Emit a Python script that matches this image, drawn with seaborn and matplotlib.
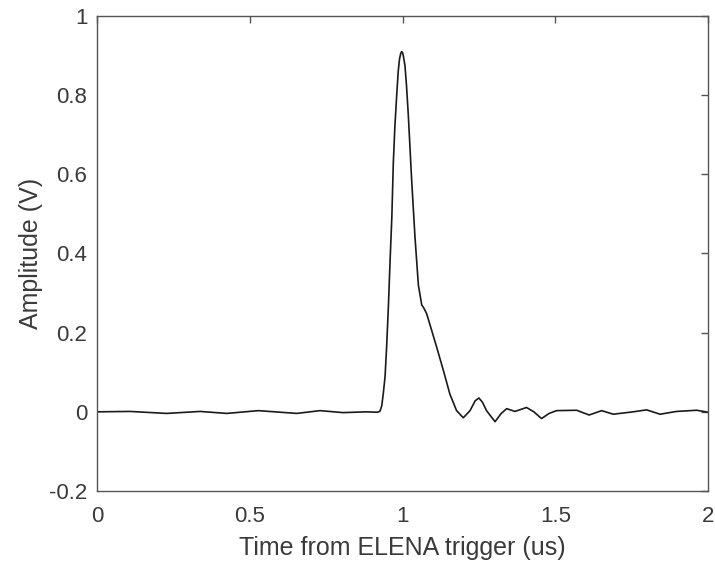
import numpy as np
import pandas as pd
import matplotlib
matplotlib.use("Agg")
import matplotlib.pyplot as plt
import seaborn as sns

# 시간 (us) / 진폭 (V) - 그림에서 읽은 값
time_us = [0.000, 0.108, 0.228, 0.337, 0.425, 0.528, 0.654, 0.730, 0.806, 0.880,
           0.916, 0.926, 0.932, 0.937, 0.943, 0.948, 0.954, 0.959, 0.965, 0.970,
           0.975, 0.981, 0.986, 0.990, 0.994, 0.997, 1.000, 1.003, 1.008, 1.013,
           1.019, 1.030, 1.041, 1.052, 1.063, 1.070, 1.079, 1.090, 1.112, 1.134,
           1.155, 1.177, 1.199, 1.221, 1.238, 1.250, 1.262, 1.275, 1.303, 1.322,
           1.341, 1.368, 1.406, 1.430, 1.455, 1.480, 1.504, 1.570, 1.611, 1.652,
           1.690, 1.755, 1.799, 1.843, 1.897, 1.963, 2.000]
amplitude = [0.000, 0.001, -0.004, 0.001, -0.004, 0.003, -0.004, 0.003, -0.002, 0.000,
             -0.001, 0.001, 0.015, 0.045, 0.090, 0.163, 0.270, 0.375, 0.490, 0.630,
             0.720, 0.800, 0.860, 0.890, 0.905, 0.910, 0.908, 0.898, 0.875, 0.825,
             0.750, 0.585, 0.440, 0.320, 0.270, 0.262, 0.248, 0.220, 0.163, 0.104,
             0.045, 0.003, -0.015, 0.003, 0.028, 0.035, 0.024, 0.003, -0.025, -0.005,
             0.008, 0.001, 0.011, 0.000, -0.017, -0.004, 0.003, 0.004, -0.008, 0.003,
             -0.006, 0.000, 0.005, -0.006, 0.001, 0.004, -0.001]

df = pd.DataFrame({"t": time_us, "amp": amplitude})

sns.set_style("white")
plt.rcParams["font.family"] = ["Liberation Sans", "DejaVu Sans"]

fig = plt.figure(figsize=(7.15, 5.66), dpi=100)
ax = fig.add_axes([97 / 715, 1 - 491 / 566, 611 / 715, 475 / 566])
sns.lineplot(data=df, x="t", y="amp", ax=ax, color="#1a1a1a", linewidth=1.2)

ax.set_xlim(0, 2)
ax.set_ylim(-0.2, 1)
ax.set_xticks([0, 0.5, 1, 1.5, 2])
ax.set_xticklabels(["0", "0.5", "1", "1.5", "2"])
ax.set_yticks([-0.2, 0, 0.2, 0.4, 0.6, 0.8, 1])
ax.set_yticklabels(["-0.2", "0", "0.2", "0.4", "0.6", "0.8", "1"])
ax.set_xlabel("Time from ELENA trigger (us)", fontsize=18, color="#3a3a3a", labelpad=6)
ax.set_ylabel("Amplitude (V)", fontsize=18, color="#3a3a3a", labelpad=4)

gray = "#555555"
for s in ax.spines.values():
    s.set_color(gray)
    s.set_linewidth(1.0)
ax.tick_params(direction="in", length=5, width=1, colors=gray,
               top=True, right=True, labelsize=16, labelcolor="#3a3a3a")
ax.tick_params(axis="x", pad=11)
ax.tick_params(axis="y", pad=7)

fig.savefig("out.png", dpi=100)
